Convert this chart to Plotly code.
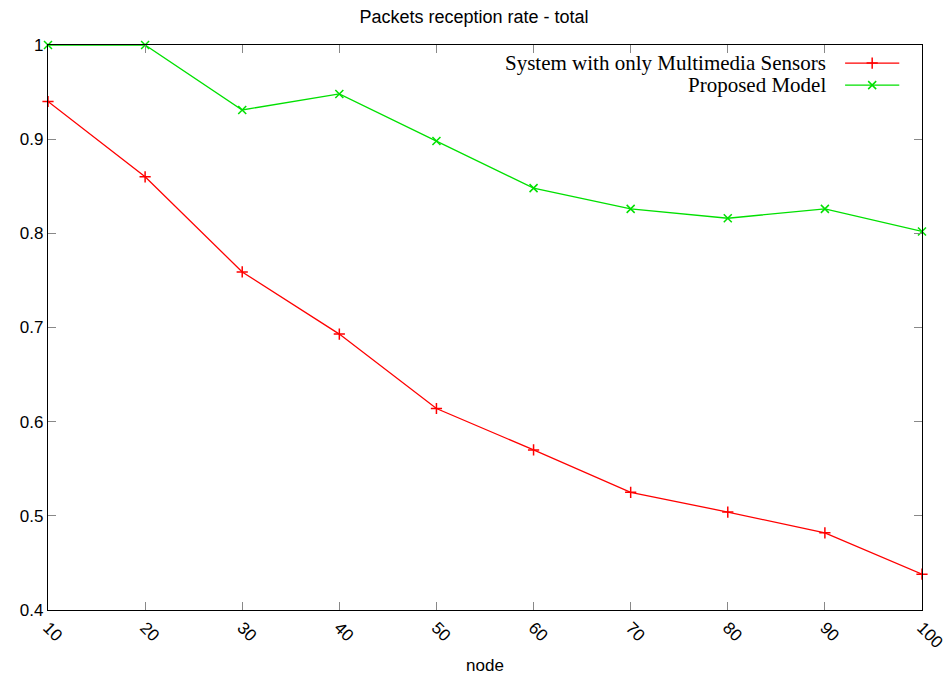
import plotly.graph_objects as go

# Packet reception rate vs number of nodes
nodes = [10, 20, 30, 40, 50, 60, 70, 80, 90, 100]
multimedia_only = [0.940, 0.860, 0.759, 0.693, 0.614, 0.570, 0.525, 0.504, 0.482, 0.438]
proposed_model = [1.000, 1.000, 0.931, 0.948, 0.898, 0.848, 0.826, 0.816, 0.826, 0.802]

series_names = ["System with only Multimedia Sensors", "Proposed Model"]
series_colors = ["#ff0000", "#00e000"]
series_symbols = ["cross-thin", "x-thin"]

y_ticks = [0.4, 0.5, 0.6, 0.7, 0.8, 0.9, 1.0]
y_tick_labels = ["0.4", "0.5", "0.6", "0.7", "0.8", "0.9", "1"]

fig = go.Figure()

for vals, name, color, sym in zip([multimedia_only, proposed_model], series_names, series_colors, series_symbols):
    fig.add_trace(go.Scatter(
        x=nodes, y=vals, mode="lines+markers", name=name,
        line=dict(color=color, width=1.3),
        marker=dict(symbol=sym, size=8, line=dict(color=color, width=1.5)),
        showlegend=False, cliponaxis=False,
    ))

# gnuplot-style key: right-aligned text followed by a line sample
key_rows_y = [0.968, 0.929]
for row_y, name, color, sym in zip(key_rows_y, series_names, series_colors, series_symbols):
    fig.add_trace(go.Scatter(
        x=[0.912, 0.943, 0.974], y=[row_y] * 3, mode="lines+markers",
        xaxis="x2", yaxis="y2", showlegend=False, hoverinfo="skip",
        line=dict(color=color, width=1.3),
        marker=dict(symbol=sym, size=8, line=dict(color=color, width=1.5),
                    opacity=[0, 1, 0]),
    ))
    fig.add_annotation(
        x=0.892, y=row_y, xref="x2", yref="y2", text=name, showarrow=False,
        xanchor="right", yanchor="middle",
        font=dict(family="Liberation Serif", size=21, color="black"),
    )

axis_common = dict(
    showline=True, linecolor="black", linewidth=1.3, mirror="ticks",
    ticks="inside", ticklen=8, tickcolor="#888888", tickwidth=1,
    showgrid=False, zeroline=False, automargin=False,
    tickfont=dict(family="Liberation Sans", size=17, color="black"),
)

fig.update_layout(
    width=948, height=675,
    margin=dict(l=48, r=26, t=45, b=65),
    paper_bgcolor="white", plot_bgcolor="white",
    title=dict(text="Packets reception rate - total", x=0.5, xanchor="center",
               y=0.975, yanchor="middle",
               font=dict(family="Liberation Sans", size=18, color="black")),
    xaxis=dict(range=[10, 100], tickvals=nodes, tickangle=45,
               title=dict(text="node", standoff=8,
                          font=dict(family="Liberation Sans", size=17, color="black")),
               **axis_common),
    yaxis=dict(range=[0.4, 1.0], tickvals=y_ticks, ticktext=y_tick_labels, **axis_common),
    xaxis2=dict(overlaying="x", range=[0, 1], visible=False),
    yaxis2=dict(overlaying="y", range=[0, 1], visible=False),
)

fig.write_html("out.html")
